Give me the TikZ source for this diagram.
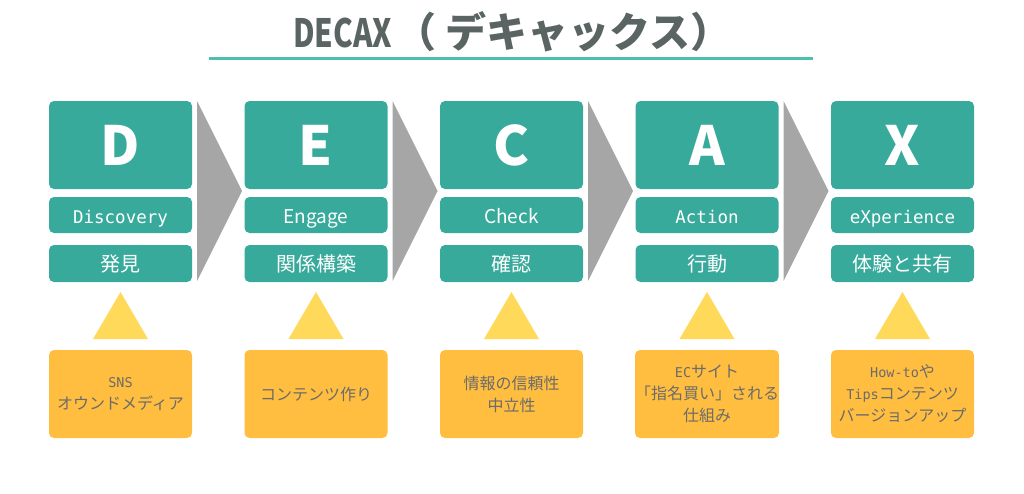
\documentclass[tikz,border=0pt]{standalone}
\usepackage{fontspec}
\usepackage{graphicx}
\setmainfont{Noto Sans CJK JP}
\newfontfamily\monofam{DejaVu Sans Mono}
\newcommand{\lat}[1]{{\monofam\fontsize{13.5}{22}\selectfont #1}}
\newcommand{\latm}[1]{{\monofam\fontsize{17.5}{20}\selectfont #1}}
\definecolor{teal1}{HTML}{37AA9C}
\definecolor{teal2}{HTML}{4DBFB0}
\definecolor{arrowgray}{HTML}{A6A6A6}
\definecolor{tri}{HTML}{FFD95A}
\definecolor{orangebox}{HTML}{FFBE3F}
\definecolor{titlecol}{HTML}{596463}
\definecolor{notecol}{HTML}{6B6B6B}
\tikzset{
  bigbox/.style={fill=teal1, rounded corners=5pt, minimum width=143pt, minimum height=88pt, inner sep=0pt, text=white, font=\bfseries\fontsize{54}{54}\selectfont},
  midbox/.style={fill=teal1, rounded corners=5pt, minimum width=143pt, minimum height=36pt, inner sep=0pt, text height=16pt, text depth=0pt, text=white, font=\fontsize{19}{20}\selectfont},
  lowbox/.style={fill=teal1, rounded corners=5pt, minimum width=143pt, minimum height=37pt, inner sep=0pt, text=white, font=\fontsize{20}{20}\selectfont},
  notebox/.style={fill=orangebox, rounded corners=5pt, minimum width=143pt, minimum height=88pt, inner sep=0pt, text=notecol, align=center, font=\fontsize{16}{22}\selectfont},
  chevron/.style={fill=arrowgray, draw=none},
  tribox/.style={fill=tri, draw=none}
}
\begin{document}
\begin{tikzpicture}[x=1pt, y=-1pt]
\useasboundingbox (0,0) rectangle (1024,493);
% title
\node[anchor=base west, text=titlecol, font=\bfseries\fontsize{41}{41}\selectfont, inner sep=0pt] (title) at (293,47) {{\fontsize{39}{39}\selectfont\scalebox{0.76}[1]{DECAX}}\hspace{3pt}（\hspace{10pt}デキャックス）};
\coordinate (ulL) at (209,58);
\coordinate (ulR) at (813,58);
\draw[teal2, line width=3pt] (ulL) -- (ulR);
% columns
\foreach \i/\L/\M/\J in {0/D/{\latm{Discovery}}/発見, 1/E/Engage/関係構築, 2/C/Check/確認, 3/A/{\latm{Action}}/行動, 4/X/{\latm{eXperience}}/体験と共有} {
  \pgfmathsetmacro{\cx}{120.5+195.5*\i}
  \node[bigbox] (big\i) at (\cx,145) {\L};
  \node[midbox] (mid\i) at (\cx,215) {\M};
  \node[lowbox] (low\i) at (\cx,263.5) {\J};
  \fill[tribox] (\cx,292) -- (\cx+27.5,339) -- (\cx-27.5,339) -- cycle;
}
\foreach \i in {0,1,2,3} {
  \pgfmathsetmacro{\ax}{197+195.5*\i}
  \fill[chevron] (\ax,101) -- (\ax+45,191) -- (\ax,281) -- cycle;
}
\node[notebox] (n0) at (120.5,394) {\lat{SNS}\\オウンドメディア};
\node[notebox] (n1) at (316,394) {コンテンツ作り};
\node[notebox] (n2) at (511.5,394) {情報の信頼性\\中立性};
\node[notebox] (n3) at (707,394) {\lat{EC}サイト\\「指名買い」される\\仕組み};
\node[notebox] (n4) at (902.5,394) {\lat{How-to}や\\\lat{Tips}コンテンツ\\バージョンアップ};
\end{tikzpicture}
\end{document}
